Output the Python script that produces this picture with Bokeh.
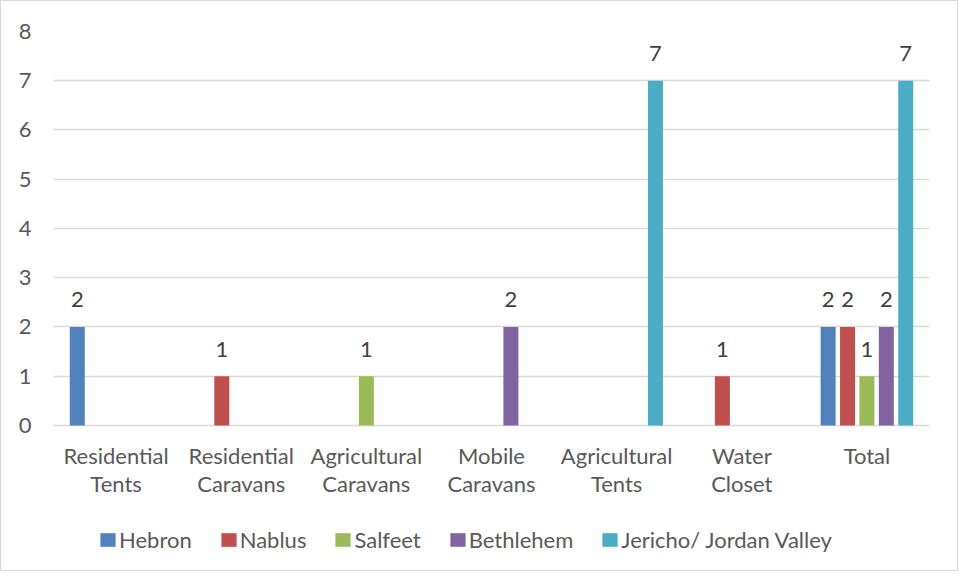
from bokeh.plotting import figure
from bokeh.models import ColumnDataSource, FixedTicker, Legend, LegendItem
from bokeh.transform import dodge
from bokeh.core.properties import value
from bokeh.embed import file_html
from bokeh.resources import INLINE

categories = ["Residential Tents", "Residential Caravans", "Agricultural Caravans",
              "Mobile Caravans", "Agricultural Tents", "Water Closet", "Total"]
label_line1 = ["Residential", "Residential", "Agricultural", "Mobile", "Agricultural", "Water", "Total"]
label_line2 = ["Tents", "Caravans", "Caravans", "Caravans", "Tents", "Closet", ""]
series = ["Hebron", "Nablus", "Salfeet", "Bethlehem", "Jericho/ Jordan Valley"]
hebron = [2, 0, 0, 0, 0, 0, 2]
nablus = [0, 1, 0, 0, 0, 1, 2]
salfeet = [0, 0, 1, 0, 0, 0, 1]
bethlehem = [0, 0, 0, 2, 0, 0, 2]
jericho = [0, 0, 0, 0, 7, 0, 7]
y_ticks = [0, 1, 2, 3, 4, 5, 6, 7, 8]

colors = ["#4F81BD", "#C0504D", "#9BBB59", "#8064A2", "#4BACC6"]
offsets = [-0.31, -0.155, 0.0, 0.155, 0.31]
values_list = [hebron, nablus, salfeet, bethlehem, jericho]
FONT = "Lato"
TXT = "#595959"
FS = "22px"

p = figure(x_range=categories, y_range=(-2.985, 8), width=958, height=571,
           output_backend="svg", toolbar_location=None,
           min_border_left=52, min_border_right=30, min_border_top=30, min_border_bottom=0,
           styles={"border": "1px solid #d9d9d9"})
p.outline_line_color = None
p.xgrid.grid_line_color = None
p.ygrid.grid_line_color = "#d9d9d9"
p.ygrid.grid_line_width = 1.5
p.yaxis.ticker = FixedTicker(ticks=y_ticks)
p.xaxis.visible = False
ax = p.yaxis[0]
ax.axis_line_color = None
ax.major_tick_line_color = None
ax.minor_tick_line_color = None
ax.major_label_text_font = FONT
ax.major_label_text_font_size = FS
ax.major_label_text_color = TXT
ax.major_label_standoff = 16

items = []
for name, vals, col, off in zip(series, values_list, colors, offsets):
    src = ColumnDataSource(dict(cat=categories, v=vals))
    r = p.vbar(x=dodge("cat", off, range=p.x_range), top="v", width=0.12, source=src,
               fill_color=col, line_color=None)
    items.append(LegendItem(label=name, renderers=[r]))
    lab_cats = [c for c, v in zip(categories, vals) if v != 0]
    lab_vals = [v for v in vals if v != 0]
    lsrc = ColumnDataSource(dict(cat=lab_cats, v=lab_vals, t=[str(v) for v in lab_vals]))
    p.text(x=dodge("cat", off, range=p.x_range), y="v", text="t", source=lsrc,
           text_align="center", text_baseline="middle", y_offset=-27,
           text_font=value(FONT), text_font_size=FS, text_color="#404040")

csrc = ColumnDataSource(dict(cat=categories, y0=[0] * len(categories), l1=label_line1, l2=label_line2))
for col_name, off in (("l1", 30), ("l2", 58)):
    p.text(x="cat", y="y0", text=col_name, source=csrc, y_offset=off,
           text_align="center", text_baseline="middle",
           text_font=value(FONT), text_font_size=FS, text_color=TXT)

legend = Legend(items=items, orientation="horizontal", location=(45, 19),
                glyph_width=19, glyph_height=17, label_standoff=2, spacing=27,
                label_text_font=FONT, label_text_font_size=FS, label_text_color=TXT,
                border_line_color=None, background_fill_alpha=0, padding=0, margin=0)
p.add_layout(legend, "center")

open("out.html", "w").write(file_html(p, INLINE))
